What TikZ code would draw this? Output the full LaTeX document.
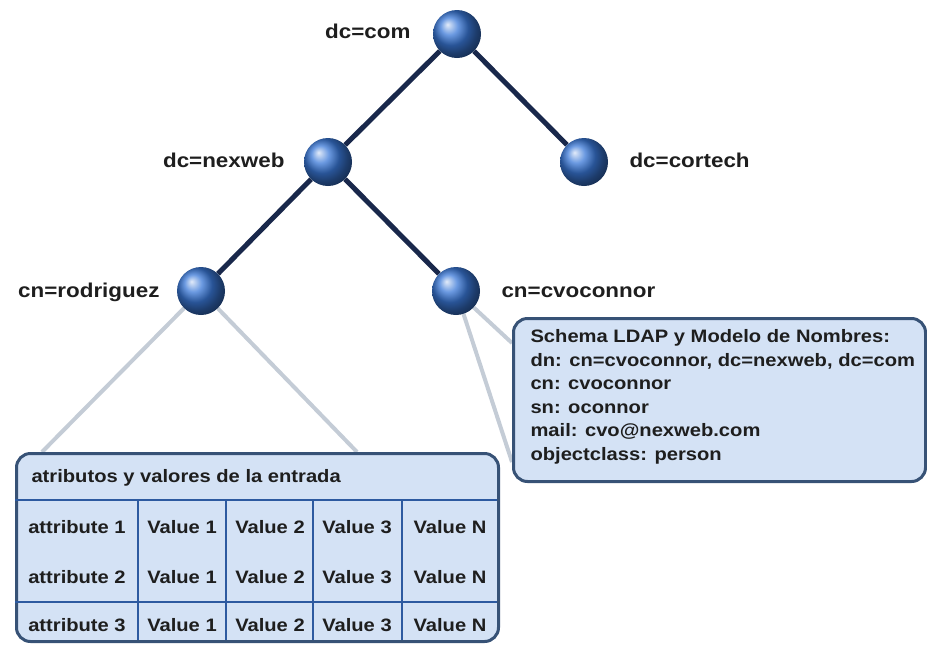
\documentclass[tikz,border=0pt]{standalone}
\usepackage{fontspec}
\setmainfont{Liberation Sans}[FakeStretch=1.12]
\usetikzlibrary{positioning}
\pgfdeclarelayer{background}
\pgfsetlayers{background,main}
\definecolor{treeline}{RGB}{25,40,75}
\definecolor{linkgray}{RGB}{196,204,214}
\definecolor{boxfill}{RGB}{212,226,245}
\definecolor{boxedge}{RGB}{55,82,118}
\definecolor{gridblue}{RGB}{45,90,160}
\definecolor{ballblue}{RGB}{58,120,215}
\definecolor{inktext}{RGB}{30,30,30}
\tikzset{
  entry/.style={circle, minimum size=48pt, inner sep=0pt, shading=ball, ball color=ballblue},
  dnlabel/.style={font=\bfseries\fontsize{20}{24}\selectfont, text=inktext},
  branch/.style={draw=treeline, line width=5pt},
  link/.style={draw=linkgray, line width=4pt},
  infobox/.style={draw=boxedge, line width=3pt, fill=boxfill, rounded corners=14pt, inner sep=0pt},
  cell/.style={font=\bfseries\fontsize{18}{22}\selectfont, text=inktext},
  grid/.style={draw=gridblue, line width=1.5pt},
}
\begin{document}
\begin{tikzpicture}[x=1pt,y=-1pt]
\useasboundingbox (0,0) rectangle (927,646);
% directory tree
\node[entry] (com) at (457,34) {};
\node[entry] (nexweb) at (328,162) {};
\node[entry] (cortech) at (584,162) {};
\node[entry] (rodriguez) at (201,291) {};
\node[entry] (cvoconnor) at (456,291) {};
\node[dnlabel, anchor=east] (comlbl) at (414,31) {dc=com};
\node[dnlabel, anchor=east] (nexweblbl) at (288,160) {dc=nexweb};
\node[dnlabel, anchor=west] (cortechlbl) at (626,160) {dc=cortech};
\node[dnlabel, anchor=east] (rodriguezlbl) at (163,292) {cn=rodriguez};
\node[dnlabel, anchor=west] (cvoconnorlbl) at (498,292) {cn=cvoconnor};
% entry boxes
\node[infobox, anchor=north west, minimum width=482pt, minimum height=188pt] (attrbox) at (15,452) {};
\node[infobox, anchor=north west, minimum width=412pt, minimum height=163pt] (schemabox) at (512,317) {};
\node[cell, anchor=north west, align=left, font=\bfseries\fontsize{18}{23.6}\selectfont] (schematext) at (527,326)
  {Schema LDAP y Modelo de Nombres:\\
   dn: cn=cvoconnor, dc=nexweb, dc=com\\
   cn: cvoconnor\\
   sn: oconnor\\
   mail: cvo@nexweb.com\\
   objectclass: person};
% table inside attrbox
\draw[grid] (15,500) -- (497,500);
\draw[grid] (15,602) -- (497,602);
\foreach \gx in {138,226,313,402}
  \draw[grid] (\gx,500) -- (\gx,640);
\node[cell, anchor=west] (attrhead) at (28,478) {atributos y valores de la entrada};
\foreach \ry/\rn in {527/1,577/2,625/3} {
  \node[cell] (attr\rn) at (77,\ry) {attribute \rn};
  \node[cell] (val1\rn) at (182,\ry) {Value 1};
  \node[cell] (val2\rn) at (270,\ry) {Value 2};
  \node[cell] (val3\rn) at (357,\ry) {Value 3};
  \node[cell] (valN\rn) at (450,\ry) {Value N};
}
\coordinate (attrL) at (42,452);
\coordinate (attrR) at (357,452);
\coordinate (schemaT) at (512,343);
\coordinate (schemaB) at (512,462);
\begin{pgfonlayer}{background}
  \draw[branch] (com) -- (nexweb);
  \draw[branch] (com) -- (cortech);
  \draw[branch] (nexweb) -- (rodriguez);
  \draw[branch] (nexweb) -- (cvoconnor);
  \draw[link] (rodriguez) -- (attrL);
  \draw[link] (rodriguez) -- (attrR);
  \draw[link] (cvoconnor) -- (schemaT);
  \draw[link] (cvoconnor) -- (schemaB);
\end{pgfonlayer}
\end{tikzpicture}
\end{document}
